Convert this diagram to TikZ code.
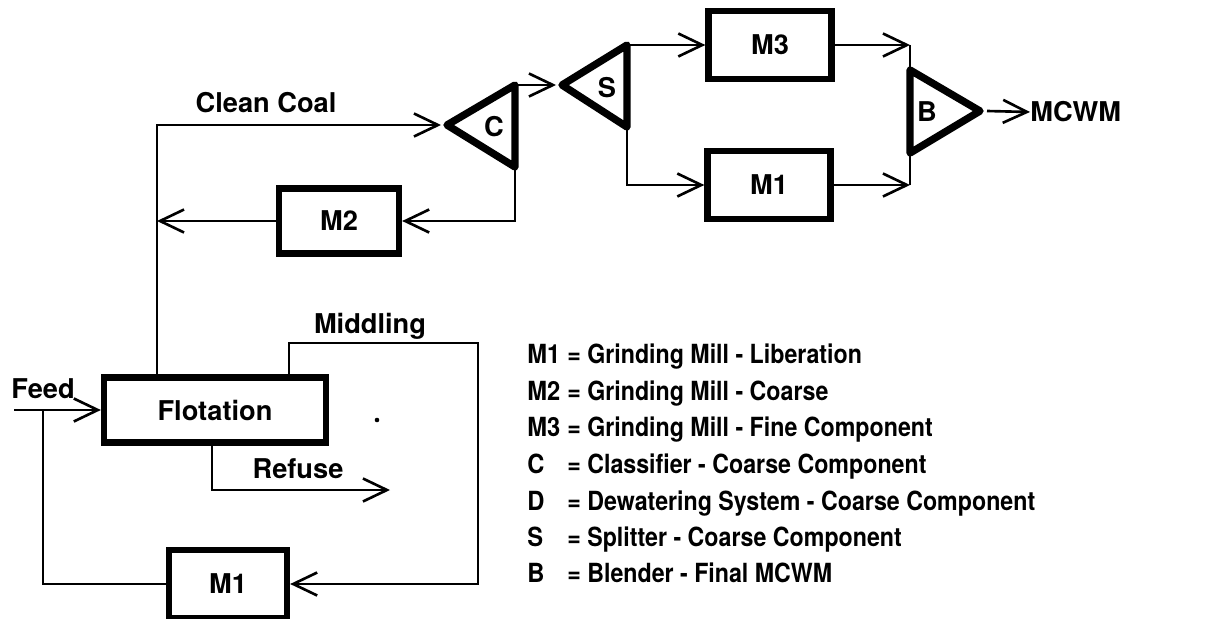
\documentclass[tikz,border=0pt]{standalone}
\usepackage{fontspec}
\setmainfont{TeX Gyre Heros}
\usetikzlibrary{arrows.meta}

\begin{document}
\begin{tikzpicture}[x=0.02cm,y=-0.02cm,
    mill/.style={draw,line width=3.6pt,minimum width=2.46cm,minimum height=1.36cm,font=\fontsize{15.5}{18}\selectfont\bfseries},
    unit/.style={draw,line width=4.2pt,line join=round},
    pipe/.style={line width=1.5pt},
    flow/.style={pipe,-{Straight Barb[length=0.48cm,width=0.46cm]}},
    lbl/.style={font=\fontsize{15.5}{18}\selectfont\bfseries},
    key/.style={anchor=base west,inner xsep=0pt,font=\fontsize{15}{18}\selectfont\bfseries}]
        \useasboundingbox (0,0) rectangle (1211,619);
        % boxes
        \node[mill,minimum width=4.44cm,minimum height=1.3cm] (Flot) at (215,410) {Flotation};
        \node[mill,minimum width=2.36cm] (M1a) at (228,584) {M1};
        \node[mill,minimum width=2.4cm,minimum height=1.3cm] (M2) at (339,221) {M2};
        \node[mill] (M3) at (770,45) {M3};
        \node[mill] (M1b) at (769,185) {M1};
        % classifier, splitter, blender
        \coordinate (Ctip) at (447,125);
        \coordinate (Ctop) at (515,85);
        \coordinate (Cbot) at (515,167);
        \draw[unit] (Ctip) -- (Ctop) -- (Cbot) -- cycle;
        \node[lbl] (C) at (494,127) {C};
        \coordinate (Stip) at (562,85);
        \coordinate (Stop) at (627,45);
        \coordinate (Sbot) at (627,127);
        \draw[unit] (Stip) -- (Stop) -- (Sbot) -- cycle;
        \node[lbl] (S) at (607,88) {S};
        \coordinate (Btop) at (910,70);
        \coordinate (Bbot) at (910,153);
        \coordinate (Btip) at (980,111);
        \draw[unit] (Btip) -- (Btop) -- (Bbot) -- cycle;
        \node[lbl] (B) at (927,112) {B};
        % labels
        \node[lbl] (feed) at (43,389) {Feed};
        \node[lbl] (clean) at (266,103) {Clean Coal};
        \node[lbl] (midd) at (370,326) {Middling};
        \node[lbl] (refuse) at (298,469) {Refuse};
        \node[lbl,anchor=west,inner xsep=0pt] (mcwm) at (1030,112) {MCWM};
        % streams
        \coordinate (feedin) at (14,410);
        \coordinate (split) at (43,410);
        \coordinate (riser) at (157,125);
        \coordinate (mturn) at (478,343);
        \coordinate (refout) at (390,490);
        \draw[flow] (feedin) -- (Flot.west);
        \draw[pipe] (split) |- (M1a.west);
        \draw[flow] ([xshift=-1.16cm]Flot.north) |- ([xshift=-0.12cm]Ctip);
        \draw[flow] (M2.west) -- (M2.west -| riser);
        \draw[flow] (Cbot) |- (M2.east);
        \draw[flow] (Ctop) -- ([xshift=-0.12cm]Stip);
        \draw[flow] (Stop) -- (M3.west);
        \draw[flow] (Sbot) |- (M1b.west);
        \draw[flow] (M3.east) -- (M3.east -| Btop);
        \draw[flow] (M1b.east) -- (M1b.east -| Btop);
        \draw[pipe] (M3.east -| Btop) -- (M1b.east -| Btop);
        \draw[flow] ([xshift=0.14cm]Btip) -- (mcwm.west);
        \draw[flow] ([xshift=1.48cm]Flot.north) |- (mturn) |- (M1a.east);
        \draw[flow] ([xshift=-0.06cm]Flot.south) |- (refout);
        \fill (377,420) circle (1.3pt);
        % legend
        \foreach \y/\k/\t in {355/M1/Grinding Mill - Liberation, 392/M2/Grinding Mill - Coarse,
            428/M3/Grinding Mill - Fine Component, 465/C/Classifier - Coarse Component,
            502/D/Dewatering System - Coarse Component, 538/S/Splitter - Coarse Component,
            574/B/Blender - Final MCWM} {
            \node[key] (k\k) at (527,\y+8) {\scalebox{0.9}[1]{\k}};
            \node[key] (t\k) at (567,\y+8) {\scalebox{0.88}[1]{= \t}};
        }
\end{tikzpicture}
\end{document}
